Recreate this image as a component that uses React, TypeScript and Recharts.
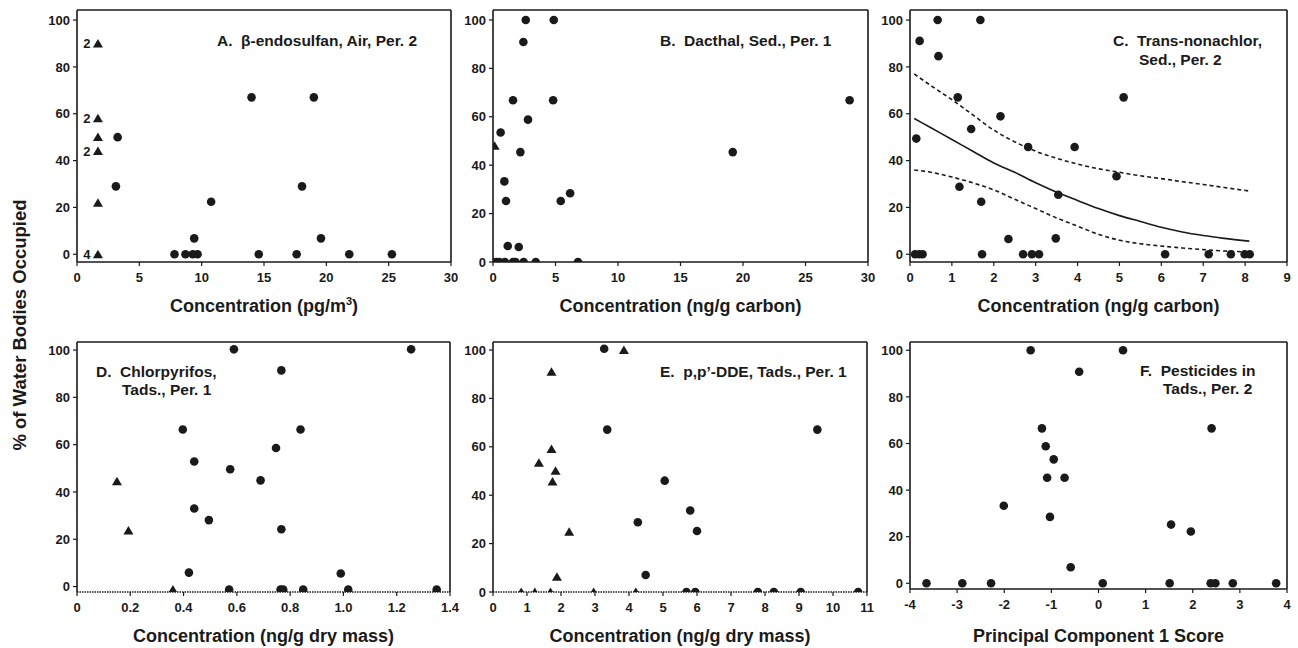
import React from 'react';
import { ComposedChart, Scatter, Line, XAxis, YAxis, ReferenceLine, LabelList } from 'recharts';

type Pt = { x: number; y: number; n?: string };

const FONT = '"Liberation Sans", Arial, Helvetica, sans-serif';
const INK = '#1a1a1a';

// ---------- Panel A: beta-endosulfan, Air, Per. 2 ----------
const aTicksX = [0, 5, 10, 15, 20, 25, 30];
const aTriangles: Pt[] = [
  { x: 1.68, y: 90, n: '2' },
  { x: 1.68, y: 58, n: '2' },
  { x: 1.68, y: 50, n: '' },
  { x: 1.68, y: 44, n: '2' },
  { x: 1.68, y: 22, n: '' },
  { x: 1.68, y: 0, n: '4' },
];
const aCircles: Pt[] = [
  { x: 3.26, y: 50 }, { x: 3.12, y: 29 }, { x: 14.0, y: 67 }, { x: 19.0, y: 67 },
  { x: 18.05, y: 29 }, { x: 10.76, y: 22.4 }, { x: 9.4, y: 6.8 }, { x: 19.57, y: 6.8 },
  { x: 7.82, y: 0 }, { x: 8.7, y: 0 }, { x: 9.29, y: 0 }, { x: 9.67, y: 0 },
  { x: 14.58, y: 0 }, { x: 17.62, y: 0 }, { x: 21.84, y: 0 }, { x: 25.26, y: 0 },
];

// ---------- Panel B: Dacthal, Sed., Per. 1 ----------
const bTicksX = [0, 5, 10, 15, 20, 25, 30];
const bTriangles: Pt[] = [{ x: 0.13, y: 48 }, { x: 0.05, y: 0 }];
const bCircles: Pt[] = [
  { x: 0.61, y: 53.5 }, { x: 0.91, y: 33.3 }, { x: 1.04, y: 25.2 }, { x: 1.18, y: 6.6 },
  { x: 1.6, y: 66.8 }, { x: 2.06, y: 6.2 }, { x: 2.19, y: 45.4 }, { x: 2.43, y: 90.9 },
  { x: 2.62, y: 100 }, { x: 2.8, y: 58.8 }, { x: 4.81, y: 66.8 }, { x: 4.86, y: 100 },
  { x: 5.42, y: 25.2 }, { x: 6.17, y: 28.4 }, { x: 19.18, y: 45.4 }, { x: 28.53, y: 66.8 },
  { x: 0.25, y: 0 }, { x: 0.5, y: 0 }, { x: 0.95, y: 0 }, { x: 1.6, y: 0 },
  { x: 1.8, y: 0 }, { x: 2.45, y: 0 }, { x: 3.42, y: 0 }, { x: 6.8, y: 0 },
];

// ---------- Panel C: Trans-nonachlor, Sed., Per. 2 ----------
const cTicksX = [0, 1, 2, 3, 4, 5, 6, 7, 8, 9];
const cCircles: Pt[] = [
  { x: 0.66, y: 100 }, { x: 1.68, y: 100 }, { x: 0.23, y: 91.1 }, { x: 0.68, y: 84.6 },
  { x: 1.14, y: 67 }, { x: 5.1, y: 67 }, { x: 2.16, y: 58.9 }, { x: 1.46, y: 53.5 },
  { x: 0.15, y: 49.4 }, { x: 2.82, y: 45.8 }, { x: 3.93, y: 45.8 }, { x: 4.93, y: 33.3 },
  { x: 1.18, y: 28.8 }, { x: 3.54, y: 25.4 }, { x: 1.7, y: 22.4 }, { x: 2.35, y: 6.5 },
  { x: 3.48, y: 6.8 },
  { x: 0.12, y: 0 }, { x: 0.22, y: 0 }, { x: 0.3, y: 0 }, { x: 1.72, y: 0 },
  { x: 2.7, y: 0 }, { x: 2.91, y: 0 }, { x: 3.08, y: 0 }, { x: 6.09, y: 0 },
  { x: 7.13, y: 0 }, { x: 7.66, y: 0 }, { x: 7.99, y: 0 }, { x: 8.11, y: 0 },
];
const cFit: Pt[] = [
  { x: 0.1, y: 58 }, { x: 0.5, y: 54 }, { x: 1, y: 49 }, { x: 1.5, y: 44 }, { x: 2, y: 39 },
  { x: 2.5, y: 35 }, { x: 3, y: 30.5 }, { x: 3.5, y: 26.5 }, { x: 4, y: 23 }, { x: 4.5, y: 19.5 },
  { x: 5, y: 16.5 }, { x: 5.5, y: 14 }, { x: 6, y: 11.5 }, { x: 6.5, y: 9.5 }, { x: 7, y: 8 },
  { x: 7.5, y: 6.8 }, { x: 8.1, y: 5.6 },
];
const cUpper: Pt[] = [
  { x: 0.1, y: 77 }, { x: 0.5, y: 72 }, { x: 1, y: 66 }, { x: 1.5, y: 59.5 }, { x: 2, y: 53 },
  { x: 2.5, y: 48 }, { x: 3, y: 44 }, { x: 3.5, y: 41 }, { x: 4, y: 38.5 }, { x: 4.5, y: 36.5 },
  { x: 5, y: 35 }, { x: 5.5, y: 33.5 }, { x: 6, y: 32.3 }, { x: 6.5, y: 31 }, { x: 7, y: 29.8 },
  { x: 7.5, y: 28.5 }, { x: 8.1, y: 27 },
];
const cLower: Pt[] = [
  { x: 0.1, y: 36 }, { x: 0.5, y: 35 }, { x: 1, y: 33 }, { x: 1.5, y: 30.5 }, { x: 2, y: 27.5 },
  { x: 2.5, y: 23.5 }, { x: 3, y: 19.5 }, { x: 3.5, y: 15.5 }, { x: 4, y: 12 }, { x: 4.5, y: 8.5 },
  { x: 5, y: 6 }, { x: 5.5, y: 4.5 }, { x: 6, y: 3.5 }, { x: 6.5, y: 2.7 }, { x: 7, y: 2 },
  { x: 7.5, y: 1.4 }, { x: 8.1, y: 1 },
];

// ---------- Panel D: Chlorpyrifos, Tads., Per. 1 ----------
const dTicksX = [0, 0.2, 0.4, 0.6, 0.8, 1.0, 1.2, 1.4];
const dTriangles: Pt[] = [{ x: 0.15, y: 44.5 }, { x: 0.193, y: 23.7 }, { x: 0.36, y: -1.3 }];
const dCircles: Pt[] = [
  { x: 0.397, y: 66.4 }, { x: 0.44, y: 52.9 }, { x: 0.44, y: 33 }, { x: 0.42, y: 5.9 },
  { x: 0.495, y: 28.1 }, { x: 0.575, y: 49.6 }, { x: 0.589, y: 100.3 }, { x: 0.689, y: 44.9 },
  { x: 0.747, y: 58.6 }, { x: 0.767, y: 91.4 }, { x: 0.767, y: 24.2 }, { x: 0.839, y: 66.4 },
  { x: 0.99, y: 5.5 }, { x: 1.254, y: 100.3 },
  { x: 0.571, y: -1.3 }, { x: 0.764, y: -1.3 }, { x: 0.774, y: -1.3 }, { x: 0.849, y: -1.3 },
  { x: 1.018, y: -1.3 }, { x: 1.35, y: -1.3 },
];

// ---------- Panel E: p,p'-DDE, Tads., Per. 1 ----------
const eTicksX = [0, 1, 2, 3, 4, 5, 6, 7, 8, 9, 10, 11];
const eTriangles: Pt[] = [
  { x: 3.85, y: 100 }, { x: 1.72, y: 91 }, { x: 1.72, y: 59 }, { x: 1.35, y: 53.4 },
  { x: 1.84, y: 50.1 }, { x: 1.75, y: 45.6 }, { x: 2.24, y: 24.9 }, { x: 1.88, y: 6.3 },
  { x: 0.83, y: 0 }, { x: 1.23, y: 0 }, { x: 1.69, y: 0 }, { x: 2.96, y: 0 }, { x: 4.2, y: 0 },
];
const eCircles: Pt[] = [
  { x: 3.27, y: 100.5 }, { x: 3.36, y: 67.1 }, { x: 5.05, y: 46 }, { x: 5.8, y: 33.7 },
  { x: 4.26, y: 28.8 }, { x: 6.0, y: 25.2 }, { x: 4.49, y: 7 }, { x: 9.54, y: 67.1 },
  { x: 5.69, y: 0 }, { x: 5.95, y: 0 }, { x: 7.79, y: 0 }, { x: 8.26, y: 0 },
  { x: 9.05, y: 0 }, { x: 10.74, y: 0 },
];

// ---------- Panel F: Pesticides in Tads., Per. 2 ----------
const fTicksX = [-4, -3, -2, -1, 0, 1, 2, 3, 4];
const fCircles: Pt[] = [
  { x: -1.44, y: 100 }, { x: 0.52, y: 100 }, { x: -0.41, y: 90.8 }, { x: -1.2, y: 66.5 },
  { x: 2.4, y: 66.5 }, { x: -1.12, y: 58.8 }, { x: -0.95, y: 53.2 }, { x: -1.09, y: 45.3 },
  { x: -0.72, y: 45.3 }, { x: -2.01, y: 33.3 }, { x: -1.03, y: 28.5 }, { x: 1.54, y: 25.2 },
  { x: 1.96, y: 22.2 }, { x: -0.59, y: 6.9 },
  { x: -3.65, y: 0 }, { x: -2.89, y: 0 }, { x: -2.28, y: 0 }, { x: 0.09, y: 0 },
  { x: 1.51, y: 0 }, { x: 2.38, y: 0 }, { x: 2.48, y: 0 }, { x: 2.85, y: 0 }, { x: 3.77, y: 0 },
];

const yTicks = [0, 20, 40, 60, 80, 100];

const DotShape = (p: any) =>
  p.cx == null ? <g /> : <circle cx={p.cx} cy={p.cy} r={4.3} fill={INK} />;
const TriShape = (p: any) =>
  p.cx == null ? (
    <g />
  ) : (
    <polygon
      points={`${p.cx},${p.cy - 4.6} ${p.cx - 5},${p.cy + 3.9} ${p.cx + 5},${p.cy + 3.9}`}
      fill={INK}
    />
  );

type Cfg = {
  left: number;
  top: number;
  w: number;
  h: number;
  xDomain: [number, number];
  yDomain: [number, number];
  xTicks: number[];
  xFmt?: (v: number) => string;
  circles: Pt[];
  triangles?: Pt[];
  triLabels?: boolean;
  lines?: { data: Pt[]; dash?: string }[];
  dottedBase?: boolean;
};

const panels: Cfg[] = [
  { left: 77, top: 10, w: 374, h: 252, xDomain: [0, 30], yDomain: [-3.3, 104.3], xTicks: aTicksX, circles: aCircles, triangles: aTriangles, triLabels: true },
  { left: 493, top: 10, w: 375, h: 252, xDomain: [0, 30], yDomain: [0, 104.1], xTicks: bTicksX, circles: bCircles, triangles: bTriangles },
  {
    left: 910, top: 10, w: 377, h: 252, xDomain: [0, 9], yDomain: [-3.3, 104.3], xTicks: cTicksX, circles: cCircles,
    lines: [{ data: cFit }, { data: cUpper, dash: '4 3' }, { data: cLower, dash: '4 3' }],
  },
  {
    left: 77, top: 342, w: 373, h: 250, xDomain: [0, 1.4], yDomain: [-2.3, 103.4], xTicks: dTicksX,
    xFmt: (v: number) => (v === 0 ? '0' : v.toFixed(1)), circles: dCircles, triangles: dTriangles, dottedBase: true,
  },
  { left: 493, top: 342, w: 374, h: 250, xDomain: [0, 11], yDomain: [0, 103.3], xTicks: eTicksX, circles: eCircles, triangles: eTriangles, dottedBase: true },
  { left: 910, top: 342, w: 377, h: 247, xDomain: [-4, 4], yDomain: [-2.45, 103.56], xTicks: fTicksX, circles: fCircles },
];

const tickStyle = { fill: INK, fontSize: 13, fontWeight: 700, fontFamily: FONT };

function Panel({ cfg }: { cfg: Cfg }) {
  const ML = 60;
  const MT = 6;
  const MR = 10;
  const XH = 40;
  return (
    <div style={{ position: 'absolute', left: cfg.left - ML, top: cfg.top - MT }}>
      <ComposedChart
        width={cfg.w + ML + MR}
        height={cfg.h + MT + XH}
        margin={{ top: MT, right: MR, bottom: 0, left: 0 }}
      >
        <XAxis
          type="number"
          dataKey="x"
          domain={cfg.xDomain}
          ticks={cfg.xTicks}
          interval={0}
          allowDataOverflow
          tickFormatter={cfg.xFmt}
          tick={tickStyle}
          tickSize={4}
          tickMargin={7}
          height={XH}
          axisLine={{ stroke: INK, strokeWidth: 1.6, strokeDasharray: cfg.dottedBase ? '1.5 1' : undefined }}
          tickLine={{ stroke: INK, strokeWidth: 1.2 }}
        />
        <YAxis
          type="number"
          dataKey="y"
          domain={cfg.yDomain}
          ticks={yTicks}
          interval={0}
          allowDataOverflow
          width={ML}
          tick={tickStyle}
          tickSize={4}
          tickMargin={3}
          axisLine={{ stroke: INK, strokeWidth: 1.6 }}
          tickLine={{ stroke: INK, strokeWidth: 1.2 }}
        />
        <ReferenceLine y={cfg.yDomain[1]} stroke={INK} strokeWidth={1.6} ifOverflow="visible" />
        <ReferenceLine x={cfg.xDomain[1]} stroke={INK} strokeWidth={1.6} ifOverflow="visible" />
        {(cfg.lines || []).map((l, i) => (
          <Line
            key={i}
            data={l.data}
            dataKey="y"
            type="monotone"
            stroke={INK}
            strokeWidth={1.6}
            strokeDasharray={l.dash}
            dot={false}
            activeDot={false}
            isAnimationActive={false}
          />
        ))}
        {cfg.triangles && (
          <Scatter data={cfg.triangles} shape={TriShape} isAnimationActive={false}>
            {cfg.triLabels && (
              <LabelList
                dataKey="n"
                position="left"
                offset={3}
                style={{ fill: INK, fontSize: 13, fontWeight: 700, fontFamily: FONT }}
              />
            )}
          </Scatter>
        )}
        <Scatter data={cfg.circles} shape={DotShape} isAnimationActive={false} />
      </ComposedChart>
    </div>
  );
}

const titleStyle: React.CSSProperties = { fontFamily: FONT, fontWeight: 700, fontSize: 18, fill: INK };
const noteStyle: React.CSSProperties = { fontFamily: FONT, fontWeight: 700, fontSize: 15.5, fill: INK, whiteSpace: 'pre' };

export default function App() {
  return (
    <div style={{ position: 'absolute', left: 0, top: 0, width: 1298, height: 648, background: '#fff', overflow: 'hidden' }}>
      {panels.map((p, i) => (
        <Panel key={i} cfg={p} />
      ))}
      <svg width={1298} height={648} style={{ position: 'absolute', left: 0, top: 0, pointerEvents: 'none' }}>
        <text transform="translate(26,325) rotate(-90)" textAnchor="middle" style={{ ...titleStyle, fontSize: 18.5 }}>
          % of Water Bodies Occupied
        </text>
        <text x={264} y={312} textAnchor="middle" style={titleStyle}>
          Concentration (pg/m<tspan dy={-7} fontSize={11}>3</tspan>
          <tspan dy={7}>)</tspan>
        </text>
        <text x={680.5} y={312} textAnchor="middle" style={titleStyle}>Concentration (ng/g carbon)</text>
        <text x={1098.5} y={312} textAnchor="middle" style={titleStyle}>Concentration (ng/g carbon)</text>
        <text x={263.5} y={642} textAnchor="middle" style={titleStyle}>Concentration (ng/g dry mass)</text>
        <text x={680} y={642} textAnchor="middle" style={titleStyle}>Concentration (ng/g dry mass)</text>
        <text x={1098.5} y={642} textAnchor="middle" style={titleStyle}>Principal Component 1 Score</text>

        <text x={217} y={46} style={noteStyle}>A.  β-endosulfan, Air, Per. 2</text>
        <text x={660} y={46} style={noteStyle}>B.  Dacthal, Sed., Per. 1</text>
        <text x={1113} y={46} style={noteStyle}>C.  Trans-nonachlor,</text>
        <text x={1139} y={65} style={noteStyle}>Sed., Per. 2</text>
        <text x={96} y={377} style={noteStyle}>D.  Chlorpyrifos,</text>
        <text x={122} y={395} style={noteStyle}>Tads., Per. 1</text>
        <text x={660} y={377} style={noteStyle}>E.  p,p’-DDE, Tads., Per. 1</text>
        <text x={1140} y={376} style={noteStyle}>F.  Pesticides in</text>
        <text x={1163} y={394} style={noteStyle}>Tads., Per. 2</text>
      </svg>
    </div>
  );
}
